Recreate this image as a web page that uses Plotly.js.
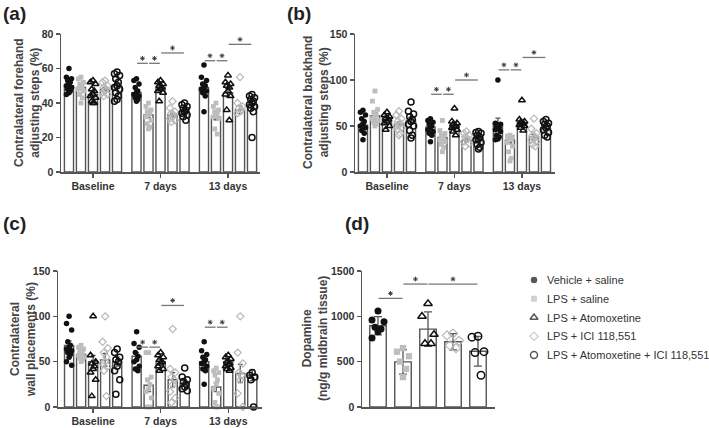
<!DOCTYPE html>
<html><head><meta charset="utf-8">
<script src="https://cdn.plot.ly/plotly-3.0.1.min.js"></script>
<style>html,body{margin:0;padding:0;background:#fff}#chart{width:709px;height:428px}</style>
</head><body><div id="chart"></div>
<script>
const groups = ['Vehicle + saline','LPS + saline','LPS + Atomoxetine','LPS + ICI 118,551','LPS + Atomoxetine + ICI 118,551'];
const timepoints = ['Baseline','7 days','13 days'];

// Panel (a): forehand adjusting steps (%) [timepoint][group]
const aMean = [[50,49,45,48,50],[46,33,49,33,35],[49,32,46,36,39]];
const aSem  = [[1.2,1.3,1.4,1.0,1.6],[1.3,1.4,1.2,1.1,1.0],[2.2,1.7,2.4,2.2,2.0]];
const aPts = [
 [[60,55,54,53,52,51,50,49,48,47,46,45],[55,54,52,51,50,49,48,47,45,43,40],[53,52,51,48,47,45,44,43,41,40,40],[53,52,50,49,48,47,46,45,44],[58,57,56,54,52,50,49,48,46,44,42,41]],
 [[54,53,51,49,47,46,45,44,43,42,41],[40,38,36,35,34,33,32,30,28,26,25],[53,52,51,50,49,48,47,46,41],[41,37,35,34,33,32,31,30,29],[40,39,38,37,36,35,34,33,32,30]],
 [[62,55,53,51,50,49,48,47,46,44,35],[40,38,36,35,34,33,32,31,25,22],[56,52,51,50,49,47,45,44,36,30],[55,40,38,37,36,35,34],[45,44,43,42,41,40,39,38,37,35,20]]
];
const aSig = [[1,0,1,63],[1,1,2,63],[1,2,4,69],[2,0,1,64.5],[2,1,2,64.5],[2,2,4,74]];

// Panel (b): backhand adjusting steps (%)
const bMean = [[51,61,59,52,56],[49,37.5,51,34.6,37],[53,34.6,53,38,47]];
const bSem  = [[3,3.2,2,2.5,3.5],[2.3,2.8,2.6,1.7,2.1],[5.5,2.8,2.8,3,2.2]];
const bPts = [
 [[67,65,62,58,55,52,50,48,45,42,35],[88,77,68,65,62,60,58,56,54,52,50],[65,62,60,58,57,55,53,50,46],[66,62,58,55,53,51,50,48,46,42,40],[76,66,63,60,57,55,52,50,45,40,37]],
 [[58,56,54,52,50,48,46,44,42,40,33],[56,45,42,40,38,37,35,33,30,27,22],[69,55,53,52,50,49,48,46,44,40],[44,42,40,38,36,35,33,31,28],[44,43,42,40,38,36,35,32,30,27,25]],
 [[100,53,52,50,48,47,46,44,40,38,36,35],[40,39,38,37,36,35,32,28,22,15,12],[78,57,55,54,53,52,51,50,48,45],[58,47,42,40,38,36,35,33,30,28],[57,55,53,52,50,48,46,43,40,38]]
];
const bSig = [[1,0,1,84.5],[1,1,2,84.5],[1,2,4,100],[2,0,1,111],[2,1,2,111],[2,2,4,124.5]];

// Panel (c): wall placements (%)
const cMean = [[68,58,50,52,50],[56,24,50,30,26],[50,22,50,37,35]];
const cSem  = [[5,2,7,7,5],[4,7,2.5,8,2.8],[4,5,2,10,6]];
const cPts = [
 [[100,92,85,72,68,66,64,62,60,58,55,50,46],[68,66,64,62,60,58,57,55,54,52,50],[100,57,50,48,45,42,38,30,12],[100,72,65,60,55,50,48,45,40,12],[64,60,55,52,50,45,40,30,14]],
 [[83,70,66,60,56,52,50,45,42,40],[60,60,33,30,25,20,17,10,0,0],[60,57,55,52,50,48,45,42,40],[86,42,38,33,30,25,17,10,5],[43,33,30,28,25,22,20,18]],
 [[72,62,58,55,52,50,48,45,42,40,25],[43,40,38,35,30,25,20,15,5,0,0],[57,55,53,50,48,47,45,43,42,40],[100,60,48,38,35,30,15,0],[38,35,33,30,0]]
];
const cSig = [[1,0,1,66],[1,1,2,66],[1,2,4,112],[2,0,1,88],[2,1,2,88]];

// Panel (d): dopamine (ng/g midbrain tissue)
const dMean = [896,498,859,720,615];
const dSd   = [100,135,190,90,165];
const dPts = [[1060,960,940,880,860,830,760],[650,610,560,500,420,330],[1140,1000,800,700,700],[810,790,730,680,650],[780,770,610,600,350]];
const dSig = [[0,1,1198],[1,2,1356],[2,4,1356]];

const styles = [
 {symbol:'circle', size:5.5, color:'#111', line:{width:0}},
 {symbol:'square', size:4.8, color:'#bdbdbd', line:{width:0}},
 {symbol:'triangle-up-open', size:6, color:'#111', line:{width:1.5, color:'#111'}},
 {symbol:'diamond-open', size:5.5, color:'#b8b8b8', line:{width:1.2, color:'#b8b8b8'}},
 {symbol:'circle-open', size:6, color:'#111', line:{width:1.5, color:'#111'}}
];
const FONT = 'Liberation Sans, Arial, sans-serif';
const AX = '#555';
const SPACING = 0.178, BARW = 0.135;
const jitPat = [0,-1,1,-0.5,0.5];
const STAR = {symbol:'asterisk-open', size:4, color:'#333', line:{width:0.9, color:'#333'}};
function pos(t,g){ return t + (g-2)*SPACING; }

const traces = [], shapes = [], annotations = [];

function addSig(lines, xa, ya, unitsPerPx){
  const sx=[], sy=[];
  lines.forEach(l=>{
    shapes.push({type:'line', xref:xa, yref:ya, x0:l[0], x1:l[1], y0:l[2], y1:l[2], line:{color:'#777', width:1.3}});
    sx.push((l[0]+l[1])/2); sy.push(l[2] + 5*unitsPerPx);
  });
  traces.push({type:'scatter', mode:'markers', x:sx, y:sy, xaxis:xa, yaxis:ya, showlegend:false, hoverinfo:'skip', marker:STAR});
}

function timePanel(mean, sem, pts, sig, xa, ya, unitsPerPx){
  const bx=[], by=[], be=[];
  for(let t=0;t<3;t++) for(let g=0;g<5;g++){ bx.push(pos(t,g)); by.push(mean[t][g]); be.push(sem[t][g]); }
  traces.push({type:'bar', x:bx, y:by, width:BARW, xaxis:xa, yaxis:ya, showlegend:false, hoverinfo:'skip',
    marker:{color:'#fff', line:{color:AX, width:1.4}},
    error_y:{type:'data', array:be, visible:true, color:AX, thickness:1.3, width:2.5}});
  for(let g=0;g<5;g++){
    const x=[], y=[];
    for(let t=0;t<3;t++) pts[t][g].forEach((v,i)=>{ x.push(pos(t,g)+jitPat[i%5]*0.038); y.push(v); });
    traces.push({type:'scatter', mode:'markers', x, y, xaxis:xa, yaxis:ya, name:groups[g], showlegend:false,
      marker:styles[g], cliponaxis:false});
  }
  addSig(sig.map(s=>[pos(s[0],s[1])+0.01, pos(s[0],s[2])-0.01, s[3]]), xa, ya, unitsPerPx);
}

timePanel(aMean,aSem,aPts,aSig,'x','y',80/138);
timePanel(bMean,bSem,bPts,bSig,'x2','y2',150/138);
timePanel(cMean,cSem,cPts,cSig,'x3','y3',150/136);

// Panel d
traces.push({type:'bar', x:[0,1,2,3,4], y:dMean, width:0.66, xaxis:'x4', yaxis:'y4', showlegend:false, hoverinfo:'skip',
  marker:{color:'#fff', line:{color:AX, width:1.4}},
  error_y:{type:'data', array:dSd, visible:true, color:AX, thickness:1.3, width:4}});
for(let g=0;g<5;g++){
  const x=[], y=[];
  dPts[g].forEach((v,i)=>{ x.push(g+jitPat[i%5]*0.24); y.push(v); });
  traces.push({type:'scatter', mode:'markers', x, y, xaxis:'x4', yaxis:'y4', showlegend:false,
    marker:Object.assign({}, styles[g], {size:styles[g].size+1.5})});
}
addSig(dSig.map(s=>[s[0]+0.02, s[1]-0.02, s[2]]), 'x4', 'y4', 1500/136);

// Legend drawn on its own hidden axis pair
traces.push({type:'scatter', mode:'markers', x:groups.map(()=>0.5), y:groups.map((_,i)=>i), xaxis:'x5', yaxis:'y5',
  showlegend:false, hoverinfo:'skip', marker:{symbol:styles.map(s=>s.symbol), size:styles.map(s=>s.size+1),
  color:styles.map(s=>s.color), line:{width:styles.map(s=>s.line.width), color:styles.map(s=>s.color)}}});
groups.forEach((g,i)=>annotations.push({xref:'paper', yref:'y5', x:545/709, y:i, text:g, showarrow:false, xanchor:'left', yanchor:'middle',
  font:{family:FONT, size:11, color:'#333'}}));

const W=709, H=428;
function px(a,b){ return [a/W, b/W]; }
function py(top,bot){ return [1-bot/H, 1-top/H]; }
const tickFont = {family:FONT, size:10.5, color:'#333', weight:'bold'};
function yax(dom, range, vals, anchor){
  return {domain:dom, range, tickvals:vals, ticktext:vals.map(String), anchor, showline:true, linecolor:AX, linewidth:1.5,
    ticks:'outside', ticklen:4, tickwidth:1.3, tickcolor:AX, showgrid:false, zeroline:false, tickfont:tickFont, fixedrange:true};
}
function xax(dom, range, anchor, labels){
  const o = {domain:dom, range, anchor, showline:true, linecolor:AX, linewidth:1.5, showgrid:false, zeroline:false, tickfont:tickFont, fixedrange:true};
  if(labels){ o.tickvals=[0,1,2]; o.ticktext=labels; o.ticks='outside'; o.ticklen=4; o.tickwidth=1.3; o.tickcolor=AX; }
  else { o.showticklabels=false; o.ticks=''; }
  return o;
}
const topY = py(34,172), botY = py(271,407);

function ytitle(x, y, text){
  annotations.push({xref:'paper', yref:'paper', x:x/W, y:1-y/H, text, textangle:-90, showarrow:false,
    xanchor:'center', yanchor:'middle', font:{family:FONT, size:12, color:'#444', weight:'bold'}});
}
ytitle(27,103,'Contralateral forehand<br>adjusting steps (%)');
ytitle(316,103,'Contralateral backhand<br>adjusting steps (%)');
ytitle(23,340,'Contralateral<br>wall placements (%)');
ytitle(315,339,'Dopamine<br>(ng/g midbrain tissue)');
function plabel(x,y,text){
  annotations.push({xref:'paper', yref:'paper', x:x/W, y:1-y/H, text, showarrow:false, xanchor:'center', yanchor:'middle',
    font:{family:FONT, size:19, color:'#222', weight:'bold'}});
}
plabel(14,14,'(a)'); plabel(299,14,'(b)'); plabel(14,224,'(c)'); plabel(357,224,'(d)');

const rowH = 18.75;
const layout = {
  width:W, height:H, margin:{l:0,r:0,t:0,b:0}, paper_bgcolor:'#fff', plot_bgcolor:'rgba(0,0,0,0)',
  showlegend:false, barmode:'overlay',
  xaxis: xax(px(61,260), [-0.474,2.474], 'y', timepoints),
  yaxis: yax(topY, [0,80], [0,20,40,60,80], 'x'),
  xaxis2: xax(px(355,555), [-0.474,2.49], 'y2', timepoints),
  yaxis2: yax(topY, [0,150], [0,50,100,150], 'x2'),
  xaxis3: xax(px(58,262), [-0.52,2.5], 'y3', timepoints),
  yaxis3: yax(botY, [0,150], [0,50,100,150], 'x3'),
  xaxis4: xax(px(362,495), [-0.64,4.68], 'y4', null),
  yaxis4: yax(botY, [0,1500], [0,500,1000,1500], 'x4'),
  xaxis5: {domain:px(528,540), range:[0,1], visible:false, anchor:'y5', fixedrange:true},
  yaxis5: {domain:py(280-rowH/2, 355+rowH/2), range:[4.5,-0.5], visible:false, anchor:'x5', fixedrange:true},
  shapes, annotations
};
Plotly.newPlot('chart', traces, layout, {staticPlot:true, displayModeBar:false});
</script></body></html>
